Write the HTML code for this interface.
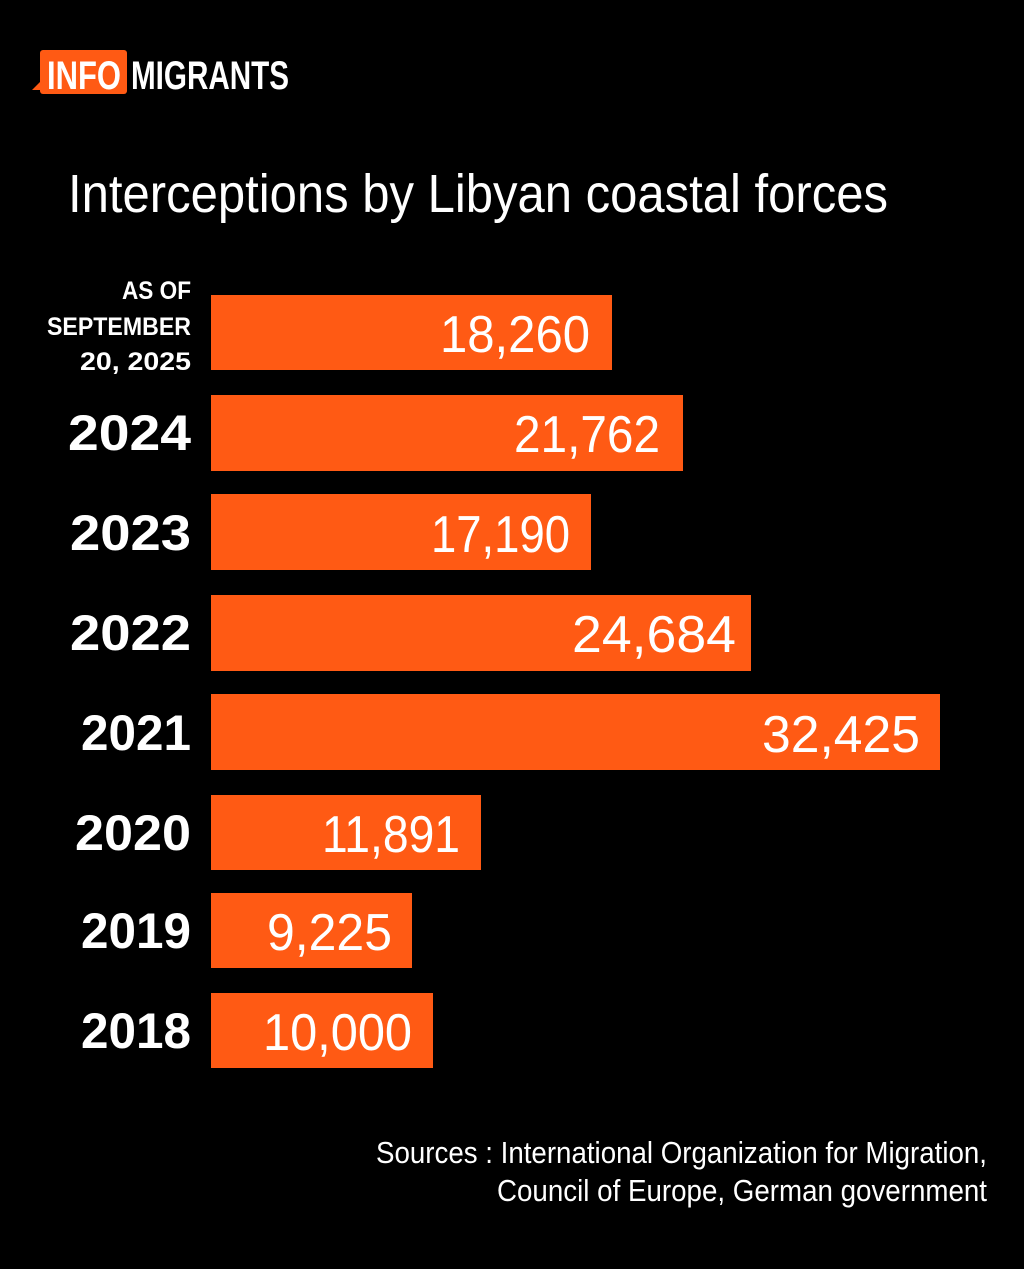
<!DOCTYPE html>
<html><head><meta charset="utf-8"><style>
html,body{margin:0;padding:0;background:#000;}
svg{display:block;}
text{font-family:"Liberation Sans Narrow","Liberation Sans",sans-serif;}
</style></head><body>
<svg width="1024" height="1269" viewBox="0 0 1024 1269" xmlns="http://www.w3.org/2000/svg">
<rect width="1024" height="1269" fill="#000"/>
<rect x="40" y="50" width="87" height="44" rx="3" fill="#ff5a14"/>
<polygon points="44,78 32,90 46,90" fill="#ff5a14"/>
<text x="47" y="89" font-size="40" font-weight="bold" fill="#fff" textLength="74" lengthAdjust="spacingAndGlyphs">INFO</text>
<text x="131" y="89" font-size="40" font-weight="bold" fill="#fff" textLength="158" lengthAdjust="spacingAndGlyphs">MIGRANTS</text>
<text x="68" y="212" font-size="54" fill="#fff" textLength="820" lengthAdjust="spacingAndGlyphs">Interceptions by Libyan coastal forces</text>
<g fill="#ff5a14">
<rect x="211" y="295" width="401" height="75"/>
<rect x="211" y="395" width="472" height="76"/>
<rect x="211" y="494" width="380" height="76"/>
<rect x="211" y="595" width="540" height="76"/>
<rect x="211" y="694" width="729" height="76"/>
<rect x="211" y="795" width="270" height="75"/>
<rect x="211" y="893" width="201" height="75"/>
<rect x="211" y="993" width="222" height="75"/>
</g>
<g fill="#fff" font-size="52" lengthAdjust="spacingAndGlyphs">
<text x="440" y="352" textLength="150" lengthAdjust="spacingAndGlyphs">18,260</text>
<text x="514" y="452" textLength="146" lengthAdjust="spacingAndGlyphs">21,762</text>
<text x="431" y="552" textLength="139" lengthAdjust="spacingAndGlyphs">17,190</text>
<text x="572" y="652" textLength="164" lengthAdjust="spacingAndGlyphs">24,684</text>
<text x="762" y="752" textLength="158" lengthAdjust="spacingAndGlyphs">32,425</text>
<text x="322" y="852" textLength="138" lengthAdjust="spacingAndGlyphs">11,891</text>
<text x="267" y="950" textLength="125" lengthAdjust="spacingAndGlyphs">9,225</text>
<text x="263" y="1050" textLength="149" lengthAdjust="spacingAndGlyphs">10,000</text>
</g>
<g fill="#fff" font-size="25" font-weight="bold">
<text x="122" y="299" textLength="69" lengthAdjust="spacingAndGlyphs">AS OF</text>
<text x="47" y="335" textLength="144" lengthAdjust="spacingAndGlyphs">SEPTEMBER</text>
<text x="80" y="370" textLength="111" lengthAdjust="spacingAndGlyphs">20, 2025</text>
</g>
<g fill="#fff" font-size="50" font-weight="bold">
<text x="68" y="450" textLength="123" lengthAdjust="spacingAndGlyphs">2024</text>
<text x="70" y="550" textLength="121" lengthAdjust="spacingAndGlyphs">2023</text>
<text x="70" y="650" textLength="121" lengthAdjust="spacingAndGlyphs">2022</text>
<text x="81" y="750" textLength="110" lengthAdjust="spacingAndGlyphs">2021</text>
<text x="75" y="850" textLength="116" lengthAdjust="spacingAndGlyphs">2020</text>
<text x="81" y="948" textLength="110" lengthAdjust="spacingAndGlyphs">2019</text>
<text x="81" y="1048" textLength="110" lengthAdjust="spacingAndGlyphs">2018</text>
</g>
<g fill="#fff" font-size="31">
<text x="376" y="1163" textLength="611" lengthAdjust="spacingAndGlyphs">Sources : International Organization for Migration,</text>
<text x="497" y="1201" textLength="490" lengthAdjust="spacingAndGlyphs">Council of Europe, German government</text>
</g>
</svg>
</body></html>
